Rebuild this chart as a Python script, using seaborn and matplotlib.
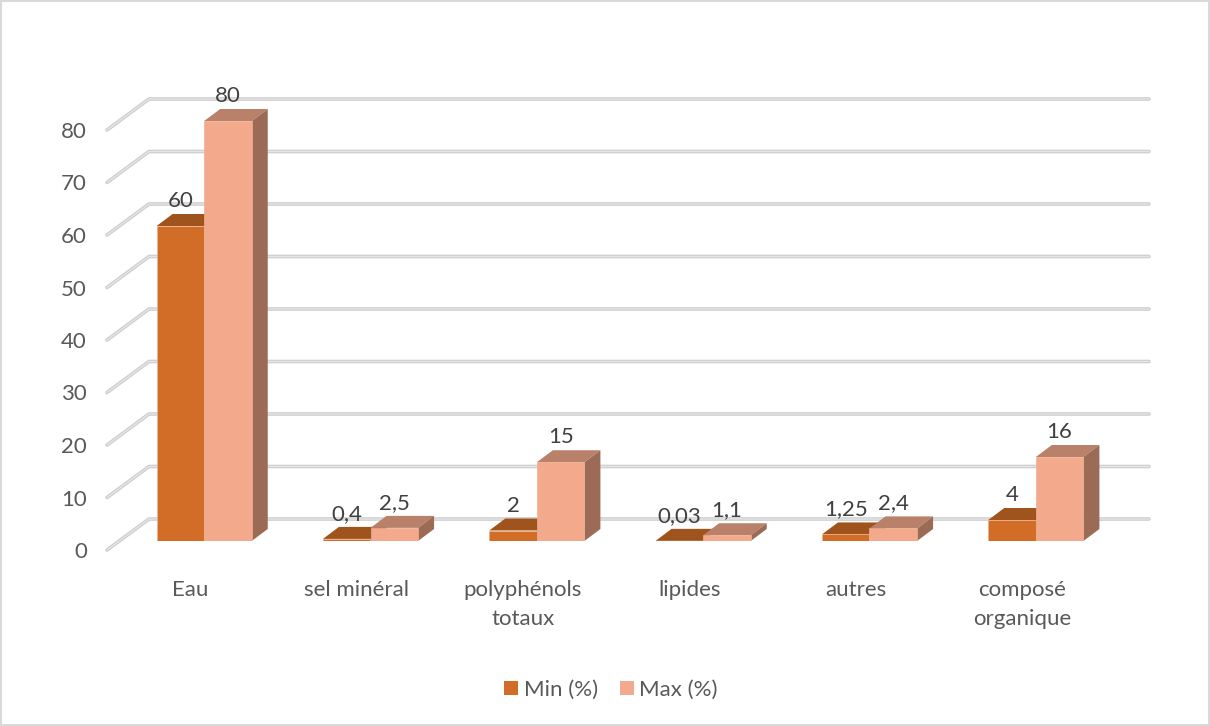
import matplotlib
matplotlib.use("Agg")
import matplotlib.pyplot as plt
import pandas as pd
import seaborn as sns
from matplotlib.patches import Polygon, Rectangle
from matplotlib.transforms import ScaledTranslation

# Composition ranges by constituent
categories = ["Eau", "sel minéral", "polyphénols\ntotaux", "lipides", "autres", "composé\norganique"]
min_values = [60, 0.4, 2, 0.03, 1.25, 4]
max_values = [80, 2.5, 15, 1.1, 2.4, 16]
series_names = ["Min (%)", "Max (%)"]
y_ticks = [0, 10, 20, 30, 40, 50, 60, 70, 80]

W, H = 1210, 726
FONT = "Lato"
FONT_SIZE = 16
FRONT = {"Min (%)": "#D26D27", "Max (%)": "#F3A98B"}
TOP = {"Min (%)": "#A0541D", "Max (%)": "#B9806A"}
SIDE = {"Min (%)": "#8C4A1A", "Max (%)": "#9C6B55"}

sns.set_theme(style="white", rc={"font.family": FONT})
plt.rcParams["font.family"] = [FONT, "DejaVu Sans"]

fig = plt.figure(figsize=(W / 100, H / 100), dpi=100, facecolor="white")
left, right, top, bottom = 121, 1119, 121, 541
ax = fig.add_axes([left / W, 1 - bottom / H, (right - left) / W, (bottom - top) / H])
ax.patch.set_alpha(0)

frame = pd.DataFrame({
    "category": categories * 2,
    "series": [series_names[0]] * 6 + [series_names[1]] * 6,
    "value": min_values + max_values,
})
sns.barplot(data=frame, x="category", y="value", hue="series", palette=FRONT,
            width=0.572, gap=0, saturation=1, ax=ax, legend=False, zorder=4,
            edgecolor="#EFB08E", linewidth=0.5)
ax.set_xlim(-0.5, 5.5)
ax.set_ylim(0, 80)
ax.set(xlabel="", ylabel="")
sns.despine(ax=ax, left=True, bottom=True)

# Pixel-to-data scale used for the oblique depth of the chart
px_x = 6 / (right - left)
px_y = 80 / (bottom - top)
depth_x, depth_y = 16 * px_x, 12 * px_y


def to_x(px):
    return (px - left) * px_x - 0.5


# Back wall gridlines with the slanted segment on the left
for tick in y_ticks:
    xs = [to_x(107), to_x(149), to_x(1149)]
    ys = [tick - 9 * px_y, tick + 22 * px_y, tick + 22 * px_y]
    ax.plot(xs, ys, color="#CDCDCD", lw=2.6, clip_on=False, zorder=1, solid_capstyle="round", solid_joinstyle="round")
    ax.plot(xs, ys, color="#E6E6E6", lw=0.9, clip_on=False, zorder=1.1, solid_capstyle="round", solid_joinstyle="round")

# Top and side faces for each bar, taken from the bar geometry
for zorder, name, container in zip((2, 3), series_names, ax.containers):
    for bar in container:
        x0, x1, h = bar.get_x(), bar.get_x() + bar.get_width(), bar.get_height()
        ax.add_patch(Polygon([(x0, h), (x1, h), (x1 + depth_x, h + depth_y), (x0 + depth_x, h + depth_y)],
                             closed=True, fc=TOP[name], ec="none", clip_on=False, zorder=zorder))
        ax.add_patch(Polygon([(x1, 0), (x1 + depth_x, depth_y), (x1 + depth_x, h + depth_y), (x1, h)],
                             closed=True, fc=SIDE[name], ec="none", clip_on=False, zorder=zorder))
        label = f"{h:g}".replace(".", ",")
        ax.annotate(label, (bar.get_x() + bar.get_width() / 2, h), xytext=(0, 25 * 0.72),
                    textcoords="offset points", ha="center", va="center",
                    fontsize=FONT_SIZE, color="#404040", zorder=6, annotation_clip=False)

# Axis labels
ax.set_yticks(y_ticks)
ax.set_yticklabels([str(t) for t in y_ticks])
ax.tick_params(axis="y", length=0, pad=24.5, labelsize=FONT_SIZE, labelcolor="#595959")
ax.tick_params(axis="x", length=0, pad=28, labelsize=FONT_SIZE, labelcolor="#595959")
down = ScaledTranslation(0, -9 / 100, fig.dpi_scale_trans)
for lab in ax.get_yticklabels():
    lab.set_transform(lab.get_transform() + down)
shift = ScaledTranslation(-14 / 100, 0, fig.dpi_scale_trans)
for lab in ax.get_xticklabels():
    lab.set_transform(lab.get_transform() + shift)
    lab.set_linespacing(1.58)

# Legend
handles = [Rectangle((0, 0), 1, 1, fc=FRONT[n], ec="none") for n in series_names]
fig.legend(handles, series_names, loc="center", bbox_to_anchor=(611 / W, 1 - 690 / H), ncol=2,
           frameon=False, fontsize=FONT_SIZE, labelcolor="#595959", handlelength=0.63, handleheight=0.63,
           handletextpad=0.25, columnspacing=1.0, borderpad=0)

# Chart border
fig.add_artist(Rectangle((1 / W, 1 / H), (W - 2) / W, (H - 2) / H, transform=fig.transFigure,
                         fc="none", ec="#D9D9D9", lw=1.5))

fig.savefig("out.png", dpi=100, facecolor="white")
